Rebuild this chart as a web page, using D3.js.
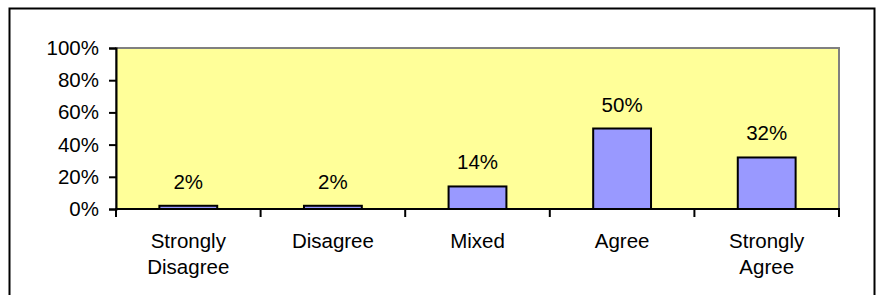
<!DOCTYPE html>
<html>
<head>
<meta charset="utf-8">
<script src="https://cdn.jsdelivr.net/npm/d3@7"></script>
<style>
  body { margin: 0; background: #fff; }
  svg { display: block; }
  text { font-family: "Liberation Sans", Arial, sans-serif; fill: #000; }
</style>
</head>
<body>
<svg id="chart" width="876" height="295"></svg>
<script>
const categories = ["Strongly\nDisagree", "Disagree", "Mixed", "Agree", "Strongly\nAgree"];
const values = [0.02, 0.02, 0.14, 0.50, 0.32];
const yTicks = [0, 0.2, 0.4, 0.6, 0.8, 1.0];

const svg = d3.select("#chart");
const fontSize = 20.5;

// outer chart frame
svg.append("rect")
    .attr("x", 9.5).attr("y", 8.5)
    .attr("width", 865).attr("height", 300)
    .attr("fill", "#fff")
    .attr("stroke", "#000")
    .attr("stroke-width", 2);

const plot = { left: 116, right: 839, top: 48, bottom: 209 };

const x = d3.scaleBand()
    .domain(d3.range(categories.length))
    .range([plot.left, plot.right])
    .paddingInner(0.6)
    .paddingOuter(0.3);

const y = d3.scaleLinear()
    .domain([0, 1])
    .range([plot.bottom, plot.top]);

// plot area
svg.append("rect")
    .attr("x", plot.left).attr("y", plot.top)
    .attr("width", plot.right - plot.left)
    .attr("height", plot.bottom - plot.top)
    .attr("fill", "#ffff99")
    .attr("stroke", "#808080")
    .attr("stroke-width", 2);

// bars
svg.append("g")
    .selectAll("rect")
    .data(values)
    .join("rect")
    .attr("x", (d, i) => x(i))
    .attr("y", d => y(d))
    .attr("width", x.bandwidth())
    .attr("height", d => y(0) - y(d))
    .attr("fill", "#9999ff")
    .attr("stroke", "#000")
    .attr("stroke-width", 2);

// value labels
svg.append("g")
    .selectAll("text")
    .data(values)
    .join("text")
    .attr("x", (d, i) => x(i) + x.bandwidth() / 2)
    .attr("y", d => y(d) - 17)
    .attr("text-anchor", "middle")
    .style("font-size", fontSize + "px")
    .text(d => d3.format(".0%")(d));

// y axis
const yAxis = svg.append("g")
    .attr("transform", `translate(${plot.left},0)`)
    .call(d3.axisLeft(y).tickValues(yTicks).tickFormat(d3.format(".0%")).tickSize(7).tickPadding(10));
yAxis.selectAll("path, line").attr("stroke", "#000").attr("stroke-width", 2);
yAxis.selectAll("text")
    .style("font-size", fontSize + "px")
    .style("font-family", "'Liberation Sans', Arial, sans-serif");

// x axis line and ticks between categories
const step = (plot.right - plot.left) / categories.length;
const xTickPos = d3.range(categories.length + 1).map(i => plot.left + i * step);
svg.append("line")
    .attr("x1", plot.left - 1).attr("x2", plot.right + 1)
    .attr("y1", plot.bottom).attr("y2", plot.bottom)
    .attr("stroke", "#000").attr("stroke-width", 2);
svg.append("g")
    .selectAll("line")
    .data(xTickPos)
    .join("line")
    .attr("x1", d => d).attr("x2", d => d)
    .attr("y1", plot.bottom).attr("y2", plot.bottom + 8)
    .attr("stroke", "#000").attr("stroke-width", 2);

// category labels
svg.append("g")
    .selectAll("text")
    .data(categories)
    .join("text")
    .attr("x", (d, i) => x(i) + x.bandwidth() / 2)
    .attr("y", 248)
    .attr("text-anchor", "middle")
    .style("font-size", fontSize + "px")
    .each(function(d) {
        d3.select(this).selectAll("tspan")
            .data(d.split("\n"))
            .join("tspan")
            .attr("x", d3.select(this).attr("x"))
            .attr("dy", (t, j) => j === 0 ? 0 : 26)
            .text(t => t);
    });
</script>
</body>
</html>
